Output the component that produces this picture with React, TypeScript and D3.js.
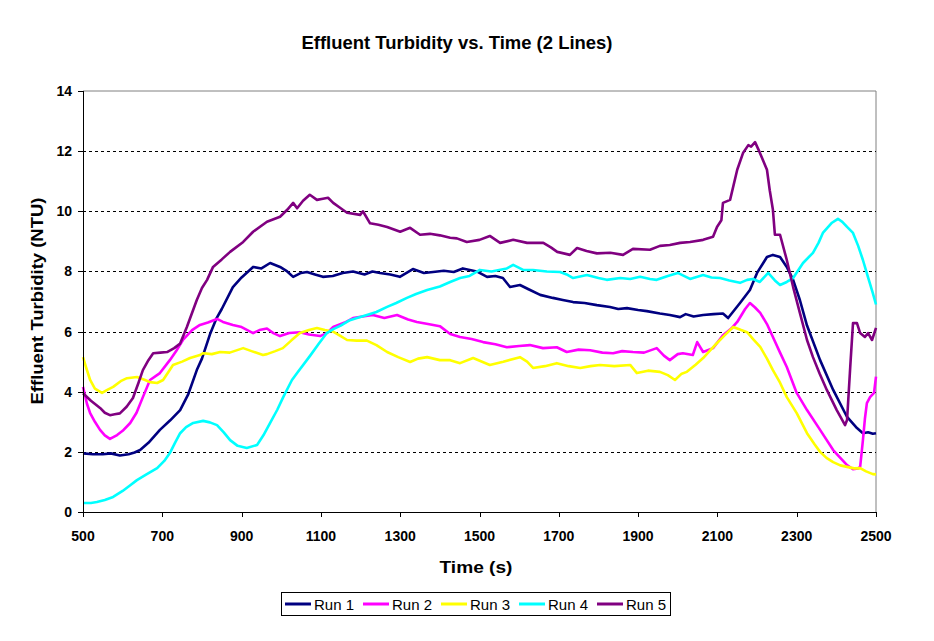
import * as d3 from 'd3';

type Pt = [number, number];

// values, [time (s), turbidity (NTU)]
const run1: Pt[] = [
  [500, 1.95], [525, 1.92], [550, 1.92], [570, 1.95], [593, 1.88], [615, 1.92], [630, 1.98], [644, 2.06],
  [665, 2.3], [694, 2.73], [720, 3.05], [745, 3.39], [765, 3.9], [787, 4.72], [800, 5.1], [820, 5.9],
  [837, 6.45], [850, 6.75], [878, 7.48], [900, 7.8], [929, 8.15], [950, 8.1], [972, 8.28], [997, 8.15],
  [1015, 8.0], [1030, 7.82], [1050, 7.95], [1065, 7.98], [1085, 7.9], [1105, 7.82], [1130, 7.85], [1155, 7.95],
  [1181, 8.0], [1210, 7.9], [1230, 8.0], [1249, 7.95], [1275, 7.9], [1299, 7.82], [1332, 8.08], [1360, 7.95],
  [1383, 7.98], [1410, 8.02], [1435, 7.98], [1458, 8.1], [1493, 8.0], [1519, 7.82], [1540, 7.85], [1559, 7.78],
  [1577, 7.48], [1602, 7.55], [1625, 7.4], [1653, 7.22], [1685, 7.12], [1710, 7.05], [1736, 6.98], [1765, 6.95],
  [1796, 6.88], [1829, 6.82], [1850, 6.75], [1872, 6.78], [1900, 6.72], [1922, 6.68], [1955, 6.6], [1980, 6.55],
  [2006, 6.48], [2020, 6.58], [2040, 6.5], [2064, 6.55], [2090, 6.58], [2114, 6.6], [2127, 6.45], [2157, 6.95],
  [2182, 7.38], [2200, 7.95], [2225, 8.48], [2240, 8.55], [2258, 8.48], [2275, 8.15], [2291, 7.72], [2308, 7.05],
  [2326, 6.2], [2359, 5.05], [2392, 4.06], [2427, 3.16], [2452, 2.79], [2467, 2.62], [2480, 2.65], [2492, 2.6],
  [2500, 2.62],
];

const run2: Pt[] = [
  [500, 4.16], [510, 3.6], [518, 3.29], [530, 3.0], [543, 2.73], [555, 2.55], [568, 2.43], [586, 2.56],
  [600, 2.7], [619, 2.96], [635, 3.3], [651, 3.82], [669, 4.39], [694, 4.62], [719, 5.05], [735, 5.35],
  [752, 5.72], [775, 6.05], [795, 6.22], [815, 6.3], [838, 6.42], [853, 6.32], [878, 6.22], [900, 6.15],
  [929, 5.95], [945, 6.05], [964, 6.1], [980, 5.95], [997, 5.85], [1020, 5.95], [1047, 5.98], [1070, 5.9],
  [1098, 5.85], [1115, 5.95], [1131, 6.15], [1160, 6.3], [1181, 6.45], [1205, 6.5], [1231, 6.55], [1260, 6.45],
  [1292, 6.55], [1320, 6.4], [1342, 6.32], [1370, 6.25], [1400, 6.18], [1426, 5.92], [1451, 5.82], [1480, 5.75],
  [1509, 5.65], [1540, 5.58], [1569, 5.48], [1600, 5.52], [1627, 5.55], [1660, 5.45], [1695, 5.48], [1720, 5.32],
  [1750, 5.4], [1779, 5.38], [1810, 5.3], [1837, 5.28], [1860, 5.35], [1887, 5.32], [1915, 5.3], [1947, 5.45],
  [1965, 5.2], [1980, 5.05], [2000, 5.25], [2013, 5.28], [2038, 5.22], [2049, 5.65], [2064, 5.32], [2089, 5.45],
  [2114, 5.88], [2135, 6.1], [2150, 6.32], [2170, 6.75], [2182, 6.95], [2195, 6.8], [2208, 6.62], [2225, 6.25],
  [2240, 5.82], [2258, 5.3], [2275, 4.82], [2300, 3.96], [2326, 3.39], [2359, 2.73], [2392, 2.06], [2410, 1.8],
  [2427, 1.56], [2442, 1.42], [2455, 1.45], [2460, 1.5], [2464, 2.0], [2467, 2.39], [2472, 3.1], [2477, 3.62],
  [2485, 3.82], [2495, 3.96], [2500, 4.5],
];

const run3: Pt[] = [
  [500, 5.15], [508, 4.8], [518, 4.39], [530, 4.1], [548, 3.96], [560, 4.05], [576, 4.16], [595, 4.35],
  [611, 4.45], [636, 4.49], [655, 4.4], [669, 4.32], [687, 4.29], [702, 4.39], [715, 4.65], [727, 4.89],
  [750, 5.0], [770, 5.12], [795, 5.22], [803, 5.28], [825, 5.25], [846, 5.32], [870, 5.3], [904, 5.45],
  [925, 5.35], [954, 5.22], [964, 5.25], [985, 5.35], [1004, 5.45], [1025, 5.7], [1047, 5.95], [1070, 6.05],
  [1090, 6.12], [1110, 6.05], [1131, 6.0], [1150, 5.85], [1166, 5.72], [1190, 5.7], [1216, 5.7], [1240, 5.55],
  [1267, 5.32], [1295, 5.15], [1325, 4.99], [1345, 5.1], [1368, 5.15], [1400, 5.05], [1426, 5.05], [1451, 4.95],
  [1484, 5.12], [1526, 4.89], [1560, 5.0], [1602, 5.15], [1620, 5.0], [1635, 4.79], [1665, 4.85], [1695, 4.95],
  [1725, 4.85], [1754, 4.79], [1780, 4.85], [1804, 4.89], [1840, 4.85], [1880, 4.89], [1897, 4.62], [1925, 4.7],
  [1955, 4.66], [1975, 4.55], [1993, 4.39], [2010, 4.6], [2023, 4.66], [2045, 4.9], [2064, 5.12], [2080, 5.35],
  [2099, 5.62], [2120, 5.9], [2140, 6.15], [2160, 6.05], [2175, 5.98], [2190, 5.75], [2208, 5.49], [2225, 5.1],
  [2240, 4.72], [2258, 4.3], [2275, 3.82], [2300, 3.29], [2326, 2.62], [2345, 2.25], [2359, 2.0], [2375, 1.8],
  [2392, 1.66], [2410, 1.55], [2427, 1.5], [2445, 1.45], [2460, 1.46], [2475, 1.35], [2492, 1.26], [2500, 1.25],
];

const run4: Pt[] = [
  [500, 0.3], [520, 0.3], [535, 0.33], [555, 0.4], [576, 0.5], [600, 0.7], [620, 0.9], [636, 1.06],
  [660, 1.25], [687, 1.46], [705, 1.7], [719, 1.96], [732, 2.3], [745, 2.62], [760, 2.82], [778, 2.96],
  [803, 3.03], [820, 2.98], [838, 2.89], [855, 2.65], [871, 2.39], [890, 2.2], [913, 2.13], [939, 2.23],
  [955, 2.55], [972, 2.96], [990, 3.4], [1005, 3.82], [1027, 4.39], [1040, 4.62], [1073, 5.2], [1095, 5.6],
  [1115, 5.95], [1131, 6.08], [1150, 6.2], [1173, 6.38], [1191, 6.45], [1216, 6.55], [1240, 6.65], [1267, 6.82],
  [1290, 6.95], [1317, 7.12], [1340, 7.25], [1368, 7.38], [1400, 7.5], [1426, 7.65], [1451, 7.78], [1475, 7.85],
  [1501, 8.05], [1530, 8.0], [1569, 8.1], [1585, 8.22], [1610, 8.05], [1635, 8.05], [1670, 8.0], [1703, 7.98],
  [1720, 7.9], [1736, 7.78], [1771, 7.88], [1800, 7.78], [1821, 7.72], [1855, 7.78], [1880, 7.75], [1905, 7.82],
  [1930, 7.75], [1947, 7.72], [1975, 7.85], [2000, 7.95], [2031, 7.75], [2064, 7.88], [2085, 7.8], [2107, 7.78],
  [2130, 7.7], [2157, 7.62], [2175, 7.72], [2190, 7.75], [2207, 7.65], [2228, 7.95], [2245, 7.7], [2258, 7.55],
  [2275, 7.65], [2291, 7.78], [2316, 8.28], [2341, 8.62], [2355, 8.95], [2366, 9.28], [2389, 9.62], [2404, 9.75],
  [2415, 9.65], [2427, 9.48], [2442, 9.28], [2455, 8.85], [2467, 8.38], [2480, 7.8], [2492, 7.28], [2500, 6.9],
];

const run5: Pt[] = [
  [500, 3.95], [520, 3.7], [543, 3.46], [555, 3.3], [568, 3.22], [580, 3.25], [593, 3.28], [610, 3.5],
  [626, 3.79], [640, 4.3], [651, 4.72], [665, 5.05], [677, 5.28], [695, 5.3], [712, 5.32], [730, 5.45],
  [745, 5.6], [762, 6.15], [787, 7.05], [800, 7.45], [813, 7.72], [828, 8.15], [850, 8.4], [871, 8.65],
  [904, 8.98], [929, 9.32], [964, 9.65], [997, 9.82], [1015, 10.05], [1030, 10.28], [1040, 10.1], [1055, 10.35],
  [1072, 10.55], [1090, 10.38], [1105, 10.42], [1118, 10.45], [1131, 10.28], [1150, 10.1], [1166, 9.95], [1199, 9.88],
  [1206, 10.0], [1224, 9.6], [1245, 9.55], [1267, 9.48], [1300, 9.32], [1325, 9.45], [1350, 9.22], [1375, 9.25],
  [1400, 9.2], [1426, 9.12], [1443, 9.1], [1468, 8.98], [1500, 9.05], [1526, 9.18], [1552, 8.95], [1585, 9.05],
  [1620, 8.95], [1661, 8.95], [1680, 8.8], [1696, 8.65], [1728, 8.55], [1746, 8.78], [1770, 8.68], [1796, 8.6],
  [1830, 8.62], [1862, 8.55], [1887, 8.75], [1930, 8.72], [1955, 8.85], [1980, 8.88], [2006, 8.95], [2031, 8.98],
  [2064, 9.05], [2089, 9.15], [2099, 9.48], [2110, 9.7], [2114, 10.28], [2132, 10.38], [2150, 11.38], [2165, 11.95],
  [2178, 12.2], [2185, 12.15], [2195, 12.3], [2207, 11.95], [2225, 11.38], [2232, 10.7], [2240, 10.05], [2245, 9.22],
  [2258, 9.22], [2275, 8.38], [2291, 7.48], [2308, 6.62], [2326, 5.72], [2341, 5.15], [2358, 4.6], [2376, 4.06],
  [2401, 3.39], [2422, 2.89], [2427, 3.06], [2435, 4.82], [2442, 6.28], [2452, 6.28], [2460, 5.95], [2472, 5.82],
  [2480, 5.95], [2490, 5.72], [2500, 6.12],
];

const seriesNames = ['Run 1', 'Run 2', 'Run 3', 'Run 4', 'Run 5'];
const seriesData = [run1, run2, run3, run4, run5];
const seriesColors = ['#000080', '#ff00ff', '#ffff00', '#00ffff', '#800080'];

const xTicks = [500, 700, 900, 1100, 1300, 1500, 1700, 1900, 2100, 2300, 2500];
const yTicks = [0, 2, 4, 6, 8, 10, 12, 14];

const W = 934;
const H = 641;
const PLOT = { left: 83, right: 876, top: 91, bottom: 512 };
const FONT = 'Arial, "Liberation Sans", Helvetica, sans-serif';

export default function App() {
  const x = d3.scaleLinear().domain([500, 2500]).range([PLOT.left, PLOT.right]);
  const y = d3.scaleLinear().domain([0, 14]).range([PLOT.bottom, PLOT.top]);
  const line = d3
    .line<Pt>()
    .x((d) => x(d[0]))
    .y((d) => y(d[1]));

  const legendX = 285;
  const legendStep = 78;

  return (
    <svg
      width={W}
      height={H}
      style={{ position: 'absolute', left: 0, top: 0, background: '#fff' }}
      fontFamily={FONT}
    >
      <rect width={W} height={H} fill="#fff" />

      {/* title */}
      <text
        x={457}
        y={49}
        textAnchor="middle"
        fontSize={18}
        fontWeight={700}
        textLength={311}
        lengthAdjust="spacingAndGlyphs"
      >
        Effluent Turbidity vs. Time (2 Lines)
      </text>

      {/* plot frame: grey top/right, black axes */}
      <line x1={PLOT.left} x2={PLOT.right} y1={PLOT.top} y2={PLOT.top} stroke="#808080" />
      <line x1={PLOT.right} x2={PLOT.right} y1={PLOT.top} y2={PLOT.bottom} stroke="#808080" />

      {/* gridlines */}
      {yTicks
        .filter((t) => t > 0 && t < 14)
        .map((t) => (
          <line
            key={`g${t}`}
            x1={PLOT.left}
            x2={PLOT.right}
            y1={Math.round(y(t)) + 0.5}
            y2={Math.round(y(t)) + 0.5}
            stroke="#000"
            strokeDasharray="3,3"
          />
        ))}

      {/* series */}
      {seriesData.map((d, i) => (
        <path
          key={seriesNames[i]}
          d={line(d) ?? ''}
          fill="none"
          stroke={seriesColors[i]}
          strokeWidth={2.6}
          strokeLinejoin="round"
        />
      ))}

      {/* y axis */}
      <line x1={PLOT.left + 0.5} x2={PLOT.left + 0.5} y1={PLOT.top} y2={PLOT.bottom} stroke="#000" />
      {yTicks.map((t) => (
        <g key={`y${t}`}>
          <line
            x1={PLOT.left - 5}
            x2={PLOT.left}
            y1={Math.round(y(t)) + 0.5}
            y2={Math.round(y(t)) + 0.5}
            stroke="#000"
          />
          <text x={PLOT.left - 11} y={y(t) + 5} textAnchor="end" fontSize={14} fontWeight={700}>
            {t}
          </text>
        </g>
      ))}

      {/* x axis */}
      <line x1={PLOT.left} x2={PLOT.right} y1={PLOT.bottom + 0.5} y2={PLOT.bottom + 0.5} stroke="#000" />
      {xTicks.map((t) => (
        <g key={`x${t}`}>
          <line
            x1={Math.round(x(t)) + 0.5}
            x2={Math.round(x(t)) + 0.5}
            y1={PLOT.bottom}
            y2={PLOT.bottom + 5}
            stroke="#000"
          />
          <text x={x(t)} y={541} textAnchor="middle" fontSize={14} fontWeight={700}>
            {t}
          </text>
        </g>
      ))}

      {/* axis titles */}
      <text
        x={476}
        y={573}
        textAnchor="middle"
        fontSize={17}
        fontWeight={700}
        textLength={73}
        lengthAdjust="spacingAndGlyphs"
      >
        Time (s)
      </text>
      <text
        transform="translate(43,301) rotate(-90)"
        textAnchor="middle"
        fontSize={17}
        fontWeight={700}
        textLength={207}
        lengthAdjust="spacingAndGlyphs"
      >
        Effluent Turbidity (NTU)
      </text>

      {/* legend */}
      <rect x={281.5} y={592.5} width={389} height={23} fill="#fff" stroke="#000" />
      {seriesNames.map((name, i) => {
        const lx = legendX + i * legendStep;
        return (
          <g key={`l${name}`}>
            <line x1={lx} x2={lx + 26} y1={604} y2={604} stroke={seriesColors[i]} strokeWidth={3} />
            <text x={lx + 29} y={609.5} fontSize={15}>
              {name}
            </text>
          </g>
        );
      })}
    </svg>
  );
}
